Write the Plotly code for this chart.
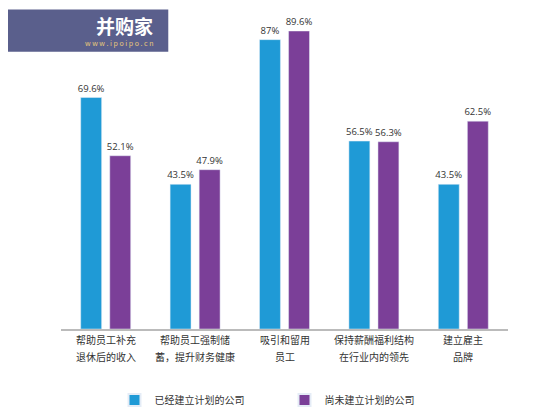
import plotly.graph_objects as go

categories = ["c1", "c2", "c3", "c4", "c5"]
cat_line1 = ["帮助员工补充", "帮助员工强制储", "吸引和留用", "保持薪酬福利结构", "建立雇主"]
cat_line2 = ["退休后的收入", "蓄，提升财务健康", "员工", "在行业内的领先", "品牌"]
with_plan = [69.6, 43.5, 87, 56.5, 43.5]
without_plan = [52.1, 47.9, 89.6, 56.3, 62.5]
labels_with = ["69.6%", "43.5%", "87%", "56.5%", "43.5%"]
labels_without = ["52.1%", "47.9%", "89.6%", "56.3%", "62.5%"]

font = "Noto Sans CJK SC"
fig = go.Figure()
for vals, labs, name, col in [(with_plan, labels_with, "已经建立计划的公司", "#1f9ad6"),
                              (without_plan, labels_without, "尚未建立计划的公司", "#7b3f98")]:
    fig.add_bar(x=categories, y=vals, name=name, marker_color=col,
                text=labs, textposition="outside", cliponaxis=False, textangle=0,
                constraintext="none", textfont=dict(size=9.5, color="#333", family="Open Sans"))
fig.update_layout(
    width=553, height=419, paper_bgcolor="white", plot_bgcolor="white",
    margin=dict(l=53, r=53, t=23, b=76),
    barmode="group", bargap=0.35, bargroupgap=0.28,
    font=dict(family=font, size=11, color="#333"),
    yaxis=dict(range=[0, 89.6], visible=False),
    xaxis=dict(showline=True, linecolor="#bbb", linewidth=1.5, ticks="", showticklabels=False,
               automargin=False),
    legend=dict(orientation="h", x=0.5, xanchor="center", y=-0.19, yanchor="top",
                font=dict(size=10), itemwidth=30, entrywidth=125, itemsizing="constant"),
)
for c, l1, l2 in zip(categories, cat_line1, cat_line2):
    fig.add_annotation(x=c, yref="paper", y=0, yshift=-20, text=l1, showarrow=False,
                       font=dict(size=10, color="#333"))
    fig.add_annotation(x=c, yref="paper", y=0, yshift=-37, text=l2, showarrow=False,
                       font=dict(size=10, color="#333"))
fig.add_shape(type="rect", xref="paper", yref="paper", x0=-0.12, x1=0.24, y0=0.93, y1=1.072,
              fillcolor="#5a5f8c", line_width=0, layer="above")
fig.add_annotation(xref="paper", yref="paper", x=0.21, y=1.07, xanchor="right", yanchor="top",
                   text="<b>并购家</b>", showarrow=False, font=dict(size=19, color="white", family=font))
fig.add_annotation(xref="paper", yref="paper", x=0.21, y=0.96, xanchor="right", yanchor="middle",
                   text="w w w . i p o i p o . c n", showarrow=False,
                   font=dict(size=7, color="#e8c87a", family=font))
fig.write_html("out.html")
